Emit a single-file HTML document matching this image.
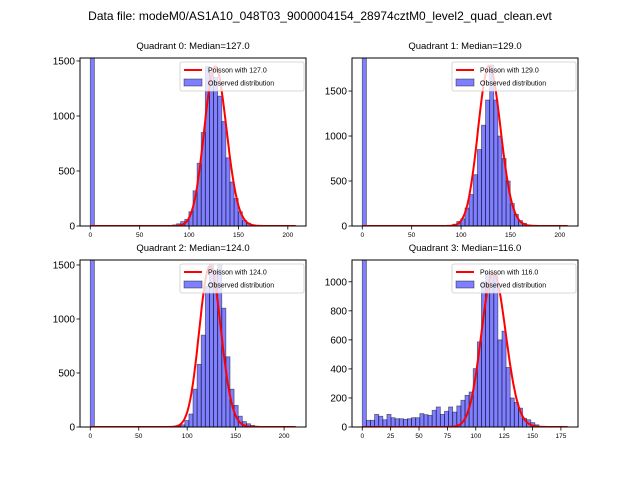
<!DOCTYPE html>
<html><head><meta charset="utf-8"><style>
body{margin:0;background:#fff;}
svg{display:block;font-family:"Liberation Sans","DejaVu Sans",sans-serif;}
</style></head><body>
<svg id="fig" width="640" height="480" xmlns="http://www.w3.org/2000/svg">
<rect width="640" height="480" fill="#fff"/>
<text x="320" y="20" font-size="12" text-anchor="middle">Data file: modeM0/AS1A10_048T03_9000004154_28974cztM0_level2_quad_clean.evt</text>
</svg>
<script>
const q0Counts=[2000,0,0,0,0,0,0,0,0,0,0,0,0,0,0,0,0,0,0,5,10,20,40,60,130,320,570,850,1450,1400,1350,1180,950,620,400,250,130,50,25,10,5,0,0,0,0,0,0,0,0,0];
const q1Counts=[2000,0,0,0,0,0,0,0,0,0,0,0,0,0,0,0,0,0,0,0,0,0,20,50,80,200,350,570,850,1120,1400,1790,1400,1000,750,500,250,130,60,30,10,5,0,0,0,0,0,0,0,0];
const q2Counts=[2000,0,0,0,0,0,0,0,0,0,0,0,0,0,0,0,0,0,0,0,0,10,20,60,120,350,580,850,1300,1500,1450,1500,1100,650,350,200,100,50,30,15,8,4,0,0,0,0,0,0,0,0];
const q3Counts=[1500,46,46,87,74,50,87,64,57,57,53,57,64,64,92,85,80,115,138,87,108,138,103,145,184,218,241,402,586,1000,1060,1050,1050,600,660,410,200,170,130,60,50,30,15,0,0,0,0,0,0,0];
const medians=[127,129,124,116];
const curvePeaks=[1450,1780,1490,1060];
const dataMax=[208,208,212,181];
const yTop=[1527,1867,1546,1150];
const xTicks=[[0,50,100,150,200],[0,50,100,150,200],[0,50,100,150,200],[0,25,50,75,100,125,150,175]];
const yTicks=[[0,500,1000,1500],[0,500,1000,1500],[0,500,1000,1500],[0,200,400,600,800,1000]];
const allCounts=[q0Counts,q1Counts,q2Counts,q3Counts];
const boxes=[[80,58,306,226],[352,58,578,226],[80,260,306,427],[352,260,578,427]];
const NS="http://www.w3.org/2000/svg";
const svg=document.getElementById('fig');
function mk(tag,attrs,parent){const e=document.createElementNS(NS,tag);for(const k in attrs)e.setAttribute(k,attrs[k]);(parent||svg).appendChild(e);return e;}
function lgam(n){let s=0;for(let i=2;i<=n;i++)s+=Math.log(i);return s;}
for(let q=0;q<4;q++){
  const [L,T,R,B]=boxes[q];
  const g=mk('g',{});
  
  
  const max=dataMax[q],pad=max*0.05;
  const xs=v=>L+(v+pad)/(max+2*pad)*(R-L);
  const ys=v=>B-v/yTop[q]*(B-T);
  const cp=mk('clipPath',{id:'c'+q},g);mk('rect',{x:L,y:T,width:R-L,height:B-T},cp);
  const bars=mk('g',{'clip-path':'url(#c'+q+')'},g);
  const counts=allCounts[q],bw=max/counts.length;
  counts.forEach((c,i)=>{
    if(c<=0)return;
    const r=mk('rect',{x:xs(i*bw),y:ys(c),width:xs(bw)-xs(0),height:B-ys(c),fill:'rgba(0,0,255,0.5)',stroke:'rgba(0,0,0,0.5)','stroke-width':0.8},bars);
    
    
  });
  const m=medians[q],lp=k=>k*Math.log(m)-m-lgam(k);
  const mode=Math.floor(m),peak=lp(mode);
  let d='';
  for(let k=0;k<=Math.round(max);k++){const v=curvePeaks[q]*Math.exp(lp(k)-peak);d+=(k?'L':'M')+xs(k).toFixed(1)+','+ys(v).toFixed(1);}
  const p=mk('path',{d:d,fill:'none',stroke:'#f00','stroke-width':2,'clip-path':'url(#c'+q+')'},g);
  
  
  const fr=mk('rect',{x:L,y:T,width:R-L,height:B-T,fill:'none',stroke:'#000','stroke-width':1},g);
  
  
  xTicks[q].forEach(t=>{const x=xs(t);mk('line',{x1:x,y1:B,x2:x,y2:B+3.5,stroke:'#000','stroke-width':0.8},g);
    const tx=mk('text',{x:x,y:B+11,'font-size':6.5,'text-anchor':'middle'},g);tx.textContent=t;
    
    });
  yTicks[q].forEach(t=>{const y=ys(t);mk('line',{x1:L,y1:y,x2:L-3.5,y2:y,stroke:'#000','stroke-width':0.8},g);
    const tx=mk('text',{x:L-5,y:y+3.5,'font-size':10,'text-anchor':'end'},g);tx.textContent=t;
    
    });
  const ti=mk('text',{x:(L+R)/2,y:T-9,'font-size':9.5,'text-anchor':'middle'},g);
  ti.textContent='Quadrant '+q+': Median='+medians[q].toFixed(1);
  
  
  const lg=mk('g',{},g);
  
  
  mk('rect',{x:R-126,y:T+4,width:124,height:29,fill:'rgba(255,255,255,0.8)',stroke:'#ccc','stroke-width':0.8,rx:2},lg);
  mk('line',{x1:R-122,y1:T+12,x2:R-104,y2:T+12,stroke:'#f00','stroke-width':2},lg);
  const t1=mk('text',{x:R-98,y:T+14.5,'font-size':7},lg);t1.textContent='Poisson with '+medians[q].toFixed(1);
  mk('rect',{x:R-122,y:T+21,width:18,height:7,fill:'rgba(0,0,255,0.5)',stroke:'rgba(0,0,0,0.5)','stroke-width':0.8},lg);
  const t2=mk('text',{x:R-98,y:T+27.5,'font-size':7},lg);t2.textContent='Observed distribution';
}
</script>
</body></html>
